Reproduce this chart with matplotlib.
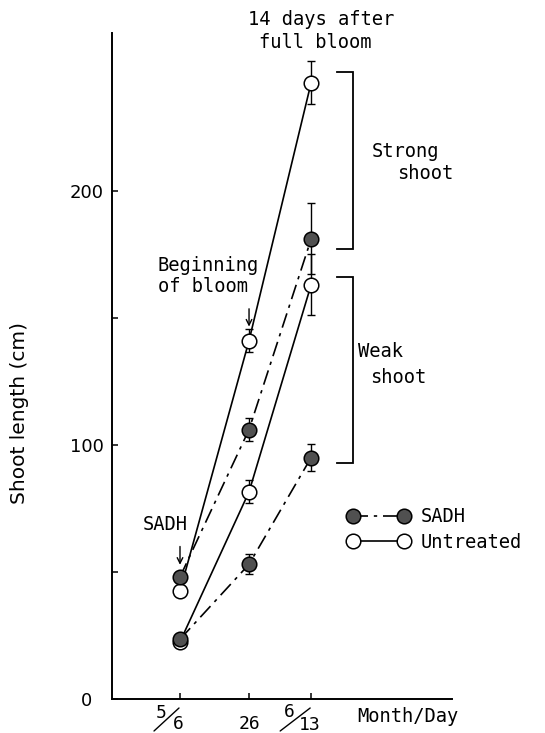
import matplotlib
matplotlib.use('Agg')
import matplotlib.pyplot as plt
from matplotlib.lines import Line2D
from matplotlib.transforms import offset_copy

# ---- data ----
days = [0, 20, 38]
untreated_strong = [42.5, 141, 242.5]
untreated_strong_err = [0, 4.5, 8.5]
sadh_strong = [48, 106, 181]
sadh_strong_err = [0, 4.5, 14]
untreated_weak = [22.5, 81.5, 163]
untreated_weak_err = [0, 4.5, 12]
sadh_weak = [23.5, 53, 95]
sadh_weak_err = [0, 4, 5.5]
strong_range = [177, 246.5]
weak_range = [93, 166]
yticks = [0, 100, 200]
yminor = [50, 150]
xtick_parts = [("5", "6"), ("26",), ("6", "13")]

MONO = 'DejaVu Sans Mono'
FS = 13.5
dash_dot = (0, (9, 3.5, 2, 3.5))
fill_c = '#505050'

fig = plt.figure(figsize=(5.45, 7.33), dpi=100)
ax = fig.add_axes([112/545, 34/733, 340/545, 666/733])
ax.set_xlim(-19.7, 78.8)
ax.set_ylim(0, 262)
for s in ['top', 'right']:
    ax.spines[s].set_visible(False)
for s in ['left', 'bottom']:
    ax.spines[s].set_linewidth(1.4)

# ticks
ax.set_yticks(yticks)
ax.set_yticks(yminor, minor=True)
ax.set_yticklabels([str(v) for v in yticks], fontsize=13, family='DejaVu Sans')
ax.tick_params(axis='y', which='both', direction='in', length=4.5, width=1.1, pad=18)
for lab in ax.get_yticklabels():
    lab.set_horizontalalignment('center')
ax.set_xticks(days)
ax.set_xticklabels([''] * len(days))
ax.tick_params(axis='x', direction='in', length=4.5, width=1.1)

ax.set_ylabel('Shoot length (cm)', fontsize=14.5, family='DejaVu Sans')
ax.yaxis.set_label_coords(-0.245, 0.43)

# error bars
for vals, err in [(untreated_strong, untreated_strong_err), (sadh_strong, sadh_strong_err),
                  (untreated_weak, untreated_weak_err), (sadh_weak, sadh_weak_err)]:
    ax.errorbar(days, vals, yerr=err, fmt='none', ecolor='black', elinewidth=1.0,
                capsize=3, capthick=1.0, zorder=2)

mk = dict(marker='o', ms=10.5, mec='black', mew=1.1, color='black', lw=1.2)
ax.plot(days, untreated_weak, ls='-', mfc='white', zorder=3, **mk)
ax.plot(days, sadh_weak, ls=dash_dot, mfc=fill_c, zorder=4, **mk)
ax.plot(days, untreated_strong, ls='-', mfc='white', zorder=3, **mk)
ax.plot(days, sadh_strong, ls=dash_dot, mfc=fill_c, zorder=4, **mk)

# brackets
bx0, bx1 = 45.5, 50.0
for lo, hi in [strong_range, weak_range]:
    ax.plot([bx0, bx1, bx1, bx0], [hi, hi, lo, lo], color='black', lw=1.3,
            clip_on=False, solid_joinstyle='miter')

# x tick labels (stacked fractions)
def off(dx, dy):
    return offset_copy(ax.transData, fig=fig, x=dx, y=dy, units='dots')

ax.text(days[0], 0, xtick_parts[0][0], transform=off(-19, -14), ha='center', va='center',
        fontsize=13, family=MONO)
ax.text(days[0], 0, xtick_parts[0][1], transform=off(-2, -25), ha='center', va='center',
        fontsize=13, family=MONO)
ax.annotate('', xy=(days[0], 0), xycoords=off(-26, -32), xytext=(days[0], 0),
            textcoords=off(-1, -9), arrowprops=dict(arrowstyle='-', lw=1.0, shrinkA=0, shrinkB=0))
ax.text(days[1], 0, xtick_parts[1][0], transform=off(0, -25), ha='center', va='center',
        fontsize=13, family=MONO)
ax.text(days[2], 0, xtick_parts[2][0], transform=off(-22, -13), ha='center', va='center',
        fontsize=13, family=MONO)
ax.text(days[2], 0, xtick_parts[2][1], transform=off(-1, -26), ha='center', va='center',
        fontsize=13, family=MONO)
ax.annotate('', xy=(days[2], 0), xycoords=off(-31, -32), xytext=(days[2], 0),
            textcoords=off(-1, -9), arrowprops=dict(arrowstyle='-', lw=1.0, shrinkA=0, shrinkB=0))

ax.text(1.0, 0, 'Month/Day', transform=offset_copy(ax.transAxes, fig=fig, x=-95, y=-18, units='dots'),
        ha='left', va='center', fontsize=FS, family=MONO)

# annotations
ax.text(19.7, 267.3, '14 days after', ha='left', va='center', fontsize=FS, family=MONO)
ax.text(23.0, 258.3, 'full bloom', ha='left', va='center', fontsize=FS, family=MONO)
ax.text(55.6, 215.2, 'Strong', ha='left', va='center', fontsize=FS, family=MONO)
ax.text(62.9, 206.7, 'shoot', ha='left', va='center', fontsize=FS, family=MONO)
ax.text(51.6, 136.6, 'Weak', ha='left', va='center', fontsize=FS, family=MONO)
ax.text(55.1, 126.4, 'shoot', ha='left', va='center', fontsize=FS, family=MONO)
ax.text(-6.4, 166.5, 'Beginning\nof bloom', ha='left', va='center', fontsize=FS,
        family=MONO, linespacing=1.15)
ax.annotate('', xy=(days[1], 146.5), xytext=(days[1], 153.5),
            arrowprops=dict(arrowstyle='->', lw=1.0, shrinkA=0, shrinkB=0))
ax.text(-4.3, 68.5, 'SADH', ha='center', va='center', fontsize=FS, family=MONO)
ax.annotate('', xy=(days[0], 52.8), xytext=(days[0], 60.0),
            arrowprops=dict(arrowstyle='->', lw=1.0, shrinkA=0, shrinkB=0))

# legend
handles = [Line2D([0], [0], ls=dash_dot, marker='o', ms=10.5, mfc=fill_c, mec='black', mew=1.1,
                  color='black', lw=1.2),
           Line2D([0], [0], ls='-', marker='o', ms=10.5, mfc='white', mec='black', mew=1.1,
                  color='black', lw=1.2)]
ax.legend(handles, ['SADH', 'Untreated'], loc='center left', bbox_to_anchor=(347/545, 1 - 529.5/733),
          bbox_transform=fig.transFigure, frameon=False, numpoints=2, handlelength=3.35,
          handletextpad=0.6, borderpad=0, borderaxespad=0, labelspacing=0.32,
          prop={'family': MONO, 'size': FS})

fig.savefig('out.png', dpi=100)
